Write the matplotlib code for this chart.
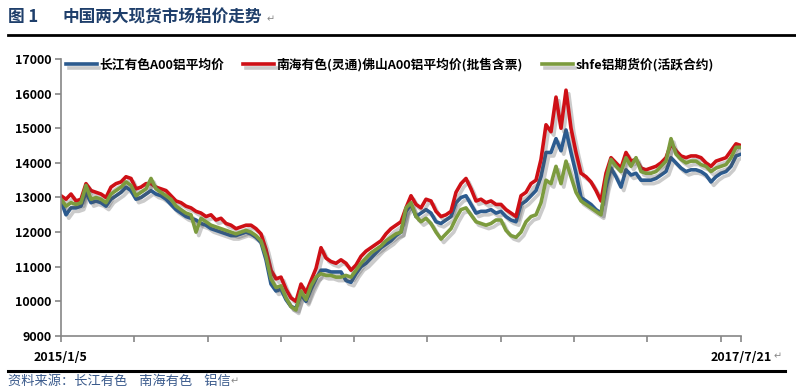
import numpy as np
import matplotlib
matplotlib.use("Agg")
import matplotlib.pyplot as plt
import matplotlib.patheffects as pe
from matplotlib.lines import Line2D

plt.rcParams["font.family"] = ["Noto Sans CJK SC", "DejaVu Sans"]

changjiang = [
    12900, 12500, 12700, 12700, 12750, 13150, 12850, 12900, 12850, 12750,
    12950, 13050, 13150, 13300, 13200, 12950, 13000, 13100, 13200, 13100,
    13050, 12950, 12800, 12650, 12550, 12450, 12400, 12350, 12250, 12200,
    12100, 12050, 12000, 11950, 11900, 11900, 11950, 12000, 11950, 11850,
    11700, 11200, 10500, 10300, 10350, 10050, 9850, 9800, 10200, 10000,
    10350, 10650, 10900, 10900, 10850, 10850, 10850, 10600, 10550, 10800,
    11000, 11100, 11250, 11400, 11550, 11650, 11750, 11900, 12000, 12600,
    12800, 12450, 12550, 12650, 12550, 12300, 12250, 12350, 12450, 12850,
    13000, 13050, 12800, 12550, 12600, 12600, 12650, 12550, 12600, 12450,
    12350, 12300, 12800, 12900, 13050, 13200, 13600, 14300, 14300, 14700,
    14350, 14950, 14300, 13700, 13000, 12900, 12800, 12650, 12550, 13300,
    13850, 13600, 13300, 13800, 13650, 13700, 13500, 13500, 13500, 13550,
    13650, 13750, 14150, 14000, 13850, 13750, 13800, 13800, 13750, 13650,
    13450, 13600, 13700, 13750, 13900, 14200, 14250,
]
nanhai = [
    13050, 12950, 13100, 12900, 12950, 13400, 13200, 13150, 13100, 13000,
    13300, 13400, 13450, 13600, 13550, 13250, 13300, 13400, 13400, 13300,
    13250, 13200, 13050, 12900, 12850, 12750, 12700, 12600, 12550, 12450,
    12500, 12350, 12400, 12250, 12200, 12100, 12150, 12200, 12200, 12100,
    11950, 11500, 10900, 10650, 10700, 10350, 10100, 10000, 10500, 10250,
    10600, 10950, 11550, 11250, 11150, 11100, 11200, 11100, 10900, 11050,
    11300, 11450, 11550, 11650, 11750, 11950, 12100, 12200, 12300, 12700,
    13050, 12800, 12700, 12950, 12900, 12600, 12450, 12500, 12600, 13150,
    13400, 13550, 13250, 12900, 12950, 12850, 12900, 12800, 12800, 12650,
    12550, 12450, 13050, 13150, 13400, 13500, 14100, 15100, 14900, 15900,
    15000, 16100, 15000, 14300, 13700, 13600, 13450, 13200, 12900, 13700,
    14150, 14000, 13850, 14300, 14050, 14100, 13850, 13800, 13850, 13900,
    14000, 14150, 14550, 14350, 14200, 14150, 14200, 14200, 14150, 14000,
    13900, 14050, 14100, 14150, 14350, 14550, 14500,
]
shfe = [
    12950, 12750, 12850, 12800, 12850, 13350, 12950, 13000, 12950, 12850,
    13100, 13200, 13300, 13450, 13350, 13050, 13150, 13250, 13550, 13250,
    13150, 13050, 12950, 12750, 12650, 12550, 12500, 12000, 12400, 12300,
    12200, 12150, 12100, 12050, 12000, 11950, 12000, 12050, 12000, 11900,
    11750, 11300, 10650, 10400, 10450, 10100, 9850, 9750, 10300, 10050,
    10450, 10700, 10800, 10750, 10750, 10700, 10700, 10750, 10700, 10900,
    11100, 11250, 11400, 11500, 11600, 11750, 11850, 11950, 12000, 12700,
    12850, 12450, 12300, 12400, 12250, 12000, 11800, 11950, 12100, 12400,
    12650, 12700, 12500, 12300, 12250, 12200, 12250, 12350, 12350, 12050,
    11900, 11850, 12000, 12300, 12450, 12500, 12850, 13500, 13400, 13900,
    13400, 14050, 13600, 13150, 12900, 12800, 12700, 12600, 12500, 13500,
    14100, 13900, 13750, 14150, 13900, 14150, 13750, 13700, 13700, 13750,
    13900, 14050, 14700, 14250, 14100, 14000, 14050, 14050, 13950, 13900,
    13750, 13850, 13900, 13950, 14150, 14450, 14450,
]

SERIES = [
    ("长江有色A00铝平均价", changjiang, "#2C5B8F"),
    ("南海有色(灵通)佛山A00铝平均价(批售含票)", nanhai, "#CE1016"),
    ("shfe铝期货价(活跃合约)", shfe, "#7C9B3E"),
]

START_LABEL = "2015/1/5"
END_LABEL = "2017/7/21"

fig = plt.figure(figsize=(7.96, 3.90), dpi=100)
ax = fig.add_axes([61 / 796, 1 - 336 / 390, 680 / 796, 277 / 390])

n = len(changjiang)
x = np.arange(n)
shadow = [pe.SimpleLineShadow(offset=(2, -2.5), shadow_color="#555555", alpha=0.3),
          pe.Normal()]

for name, values, colour in SERIES:
    ax.plot(x, values, color=colour, linewidth=2.6, label=name,
            solid_joinstyle="round", path_effects=shadow)

ax.set_xlim(0, n - 1)
ax.set_ylim(9000, 17000)
ax.set_yticks(np.arange(9000, 17001, 1000))
for lab in ax.get_yticklabels():
    lab.set_fontweight("bold")

# Category axis: tick marks every 68 trading days, labels only at the ends
step = (n - 1) * 68 / 631
ax.set_xticks(np.arange(0, n - 1, step), minor=True)
ax.set_xticks([0, n - 1])
ax.set_xticklabels([START_LABEL, END_LABEL], fontweight="bold")

for side in ["top", "right"]:
    ax.spines[side].set_visible(False)
for side in ["left", "bottom"]:
    ax.spines[side].set_color("#868686")
    ax.spines[side].set_linewidth(1.2)
ax.tick_params(axis="both", which="both", color="#868686", width=1.2,
               length=4, labelsize=9, labelcolor="black")
ax.tick_params(axis="x", pad=7)
ax.tick_params(axis="y", pad=3)

ax.legend(loc="upper left", bbox_to_anchor=(66 / 796, 1 - 58 / 390),
          bbox_transform=fig.transFigure, ncol=3, frameon=False,
          handlelength=2.4, handletextpad=0.2, columnspacing=1.5,
          borderpad=0, borderaxespad=0, prop={"weight": "bold", "size": 9.2})

# Title and rules
fig.text(8 / 796, 1 - 17 / 390, "图 1", fontsize=12, fontweight="bold",
         color="#1F3F6B", va="center")
fig.text(62 / 796, 1 - 17 / 390, "中国两大现货市场铝价走势", fontsize=12,
         fontweight="bold", color="#1F3F6B", va="center")
fig.text(267 / 796, 1 - 19 / 390, "↵", fontsize=7, color="#888888", va="center")
fig.add_artist(Line2D([8 / 796, 1], [1 - 35 / 390] * 2, color="black",
                      linewidth=2, transform=fig.transFigure))
fig.text(774 / 796, 1 - 356 / 390, "↵", fontsize=7, color="#888888", va="center")
fig.add_artist(Line2D([8 / 796, 785 / 796], [1 - 371 / 390] * 2, color="black",
                      linewidth=2.2, transform=fig.transFigure))
fig.text(8 / 796, 1 - 381 / 390, "资料来源：长江有色    南海有色    铝信",
         fontsize=9.5, style="italic", color="#3A5A8C", va="center")
fig.text(231 / 796, 1 - 381 / 390, "↵", fontsize=7, color="#888888", va="center")

fig.savefig("out.png", dpi=100)
